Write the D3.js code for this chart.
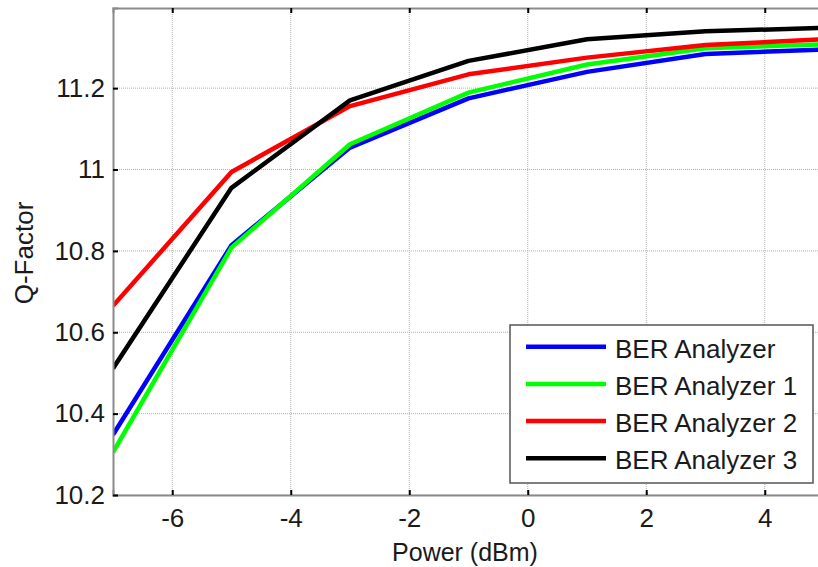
<!DOCTYPE html>
<html>
<head>
<meta charset="utf-8">
<script src="https://cdn.jsdelivr.net/npm/d3@7"></script>
<style>
  html, body { margin: 0; padding: 0; background: #fff; }
  svg { display: block; font-family: "Liberation Sans", Arial, sans-serif; }
</style>
</head>
<body>
<svg id="chart" width="818" height="567"></svg>
<script>
const powers = [-7, -5, -3, -1, 1, 3, 5];
const seriesNames = ["BER Analyzer", "BER Analyzer 1", "BER Analyzer 2", "BER Analyzer 3"];
const seriesColors = ["#0000ff", "#00ff00", "#ff0000", "#000000"];
const berAnalyzer  = [10.348, 10.814, 11.054, 11.175, 11.240, 11.284, 11.295];
const berAnalyzer1 = [10.305, 10.808, 11.062, 11.189, 11.258, 11.298, 11.308];
const berAnalyzer2 = [10.665, 10.994, 11.156, 11.234, 11.275, 11.306, 11.320];
const berAnalyzer3 = [10.511, 10.955, 11.170, 11.267, 11.320, 11.340, 11.348];
const xTicks = [-6, -4, -2, 0, 2, 4];
const yTicks = [10.2, 10.4, 10.6, 10.8, 11, 11.2];
const xLabel = "Power (dBm)";
const yLabel = "Q-Factor";

const allSeries = [berAnalyzer, berAnalyzer1, berAnalyzer2, berAnalyzer3];

const svg = d3.select("#chart");
const pLeft = 113, pRight = 824, pTop = 8, pBottom = 495;

const x = d3.scaleLinear().domain([-7, 5]).range([pLeft, pRight]);
const y = d3.scaleLinear().domain([10.2, 11.397]).range([pBottom, pTop]);

// grid
const grid = svg.append("g");
grid.selectAll("line.gx").data(xTicks).join("line")
  .attr("x1", d => x(d)).attr("x2", d => x(d))
  .attr("y1", pTop).attr("y2", pBottom)
  .attr("stroke", "#b0b0b0").attr("stroke-width", 1)
  .attr("stroke-dasharray", "1,1");
grid.selectAll("line.gy").data(yTicks).join("line")
  .attr("x1", pLeft).attr("x2", pRight)
  .attr("y1", d => y(d)).attr("y2", d => y(d))
  .attr("stroke", "#b0b0b0").attr("stroke-width", 1)
  .attr("stroke-dasharray", "1,1");

// clip
svg.append("clipPath").attr("id", "clip").append("rect")
  .attr("x", pLeft).attr("y", pTop).attr("width", pRight - pLeft).attr("height", pBottom - pTop);

// lines
const line = d3.line().x((d, i) => x(powers[i])).y(d => y(d));
svg.append("g").attr("clip-path", "url(#clip)")
  .selectAll("path").data(allSeries).join("path")
  .attr("d", d => line(d))
  .attr("fill", "none")
  .attr("stroke", (d, i) => seriesColors[i])
  .attr("stroke-width", 4.5)
  .attr("stroke-linejoin", "round");

// axes
const axisColor = "#8a8a8a";
const fmt = d => String(d);
const bottomAxis = svg.append("g").attr("transform", `translate(0,${pBottom})`)
  .call(d3.axisBottom(x).tickValues(xTicks).tickSize(-5).tickPadding(14).tickFormat(fmt));
const topAxis = svg.append("g").attr("transform", `translate(0,${pTop})`)
  .call(d3.axisTop(x).tickValues(xTicks).tickSize(-5).tickFormat(""));
const leftAxis = svg.append("g").attr("transform", `translate(${pLeft},0)`)
  .call(d3.axisLeft(y).tickValues(yTicks).tickSize(-5).tickPadding(8).tickFormat(fmt));

[bottomAxis, topAxis, leftAxis].forEach(g => {
  g.select(".domain").attr("stroke", axisColor).attr("stroke-width", 2);
  g.selectAll(".tick line").attr("stroke", "#000").attr("stroke-width", 2);
  g.selectAll(".tick text").attr("fill", "#1a1a1a").attr("font-size", 26)
    .attr("font-family", "'Liberation Sans', Arial, sans-serif");
});

// axis labels
svg.append("text").attr("x", 465).attr("y", 561)
  .attr("text-anchor", "middle").attr("font-size", 25).attr("fill", "#1a1a1a")
  .text(xLabel);
svg.append("text")
  .attr("transform", `translate(33,${253}) rotate(-90)`)
  .attr("text-anchor", "middle").attr("font-size", 26).attr("fill", "#1a1a1a")
  .text(yLabel);

// legend
const lg = svg.append("g");
lg.append("rect").attr("x", 510).attr("y", 325).attr("width", 303).attr("height", 158)
  .attr("fill", "#fff").attr("stroke", "#555").attr("stroke-width", 1.5);
const rows = lg.selectAll("g.row").data(seriesNames).join("g")
  .attr("transform", (d, i) => `translate(0,${346.7 + i * 37.2})`);
rows.append("line").attr("x1", 526).attr("x2", 606).attr("y1", 0).attr("y2", 0)
  .attr("stroke", (d, i) => seriesColors[i]).attr("stroke-width", 4.5);
rows.append("text").attr("x", 615).attr("y", 0).attr("dy", "0.42em")
  .attr("font-size", 26).attr("fill", "#1a1a1a").text(d => d);
</script>
</body>
</html>
